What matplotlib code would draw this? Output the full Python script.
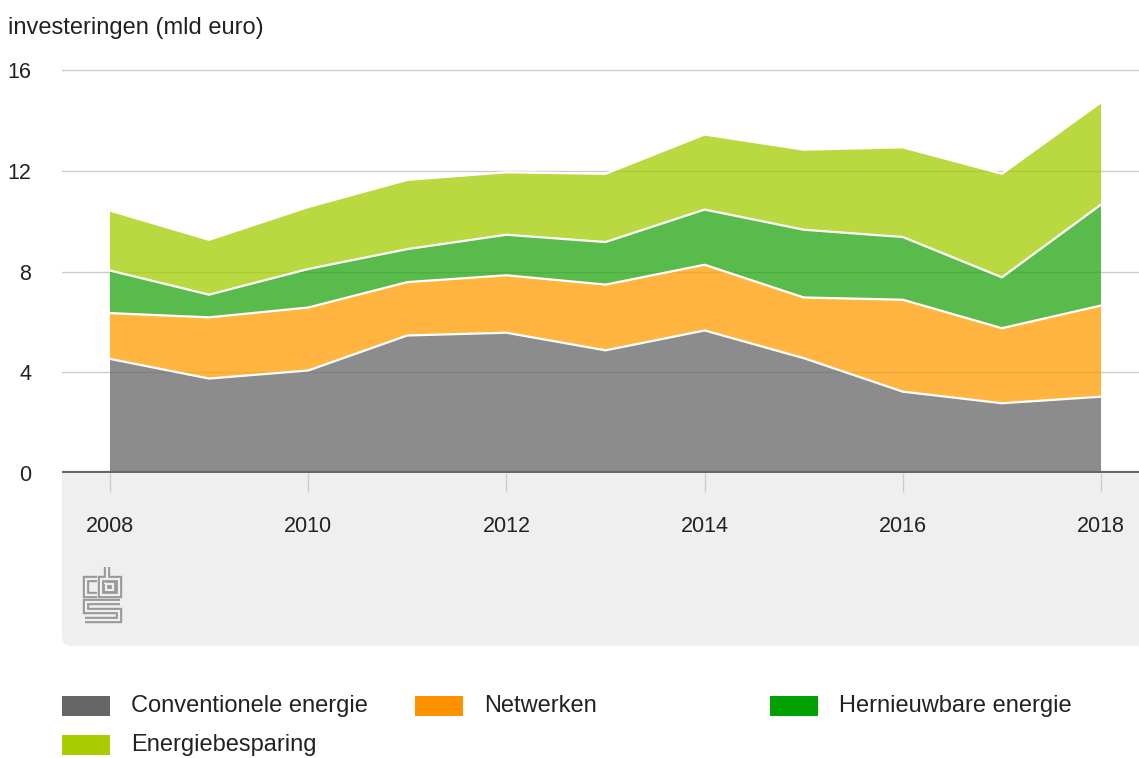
import matplotlib.pyplot as plt
from matplotlib.patches import FancyBboxPatch, Rectangle
from matplotlib.lines import Line2D
import numpy as np

plt.rcParams['font.family'] = ['Liberation Sans', 'DejaVu Sans']

years = np.arange(2008, 2019)
conventioneel = [4.53, 3.75, 4.07, 5.46, 5.57, 4.87, 5.66, 4.56, 3.23, 2.77, 3.03]
netwerken = [1.82, 2.43, 2.50, 2.12, 2.28, 2.61, 2.61, 2.41, 3.65, 2.98, 3.62]
hernieuwbaar = [1.69, 0.90, 1.53, 1.31, 1.61, 1.69, 2.19, 2.69, 2.49, 2.02, 4.01]
besparing = [2.38, 2.18, 2.46, 2.75, 2.48, 2.71, 2.98, 3.18, 3.56, 4.11, 4.06]

labels = ["Conventionele energie", "Netwerken", "Hernieuwbare energie", "Energiebesparing"]
colors = ["#666666", "#ff9200", "#00a100", "#a8cc00"]
fill_colors = ["#666666", "#ff9c00", "#21a410", "#a3cc00"]
yticks = [0, 4, 8, 12, 16]
xticks = [2008, 2010, 2012, 2014, 2016, 2018]

fig = plt.figure(figsize=(11.39, 7.58), dpi=100)
inch = fig.dpi_scale_trans
H = 7.58

# grey panel under the x axis
panel = FancyBboxPatch((0.62, H - 6.46), 11.2, 1.86, boxstyle="round,pad=0,rounding_size=0.09",
                       transform=inch, facecolor="#efefef", edgecolor="none", zorder=-5)
fig.patches.append(panel)

ax = fig.add_axes([62 / 1139, 1 - 473 / 758, 1 - 62 / 1139, (473 - 65) / 758])
ax.set_facecolor("white")
ax.set_xlim(2007.516, 2018.383)
ax.set_ylim(0, 16.2)

series = [conventioneel, netwerken, hernieuwbaar, besparing]
ax.stackplot(years, *series, colors=fill_colors, alpha=0.75, linewidth=0, zorder=2)
cum = np.cumsum(np.array(series), axis=0)
for row in cum:
    ax.plot(years, row, color="white", lw=1.6, zorder=3)

for y in yticks[1:]:
    ax.axhline(y, color="#cccccc", lw=1, zorder=1)
ax.axhline(0, color="#666666", lw=3, zorder=4)

for s in ax.spines.values():
    s.set_visible(False)
ax.set_yticks(yticks)
ax.set_xticks(xticks)
ax.tick_params(axis="y", length=0, pad=22, labelsize=15.5, labelcolor="#222222")
ax.tick_params(axis="x", length=14, width=1, color="#cccccc", pad=17, labelsize=15.5,
               labelcolor="#222222")

fig.text(8 / 1139, 1 - 28 / 758, "investeringen (mld euro)", fontsize=17, color="#222222",
         va="center", ha="left")

# cbs logo
def logo_line(xs, ys):
    xs = [x / 100 for x in xs]
    ys = [H - y / 100 for y in ys]
    fig.lines.append(Line2D(xs, ys, transform=inch, color="#999999", lw=4.6,
                            solid_joinstyle="miter", solid_capstyle="butt", zorder=5))
    fig.lines.append(Line2D(xs, ys, transform=inch, color="#efefef", lw=1.6,
                            solid_joinstyle="miter", solid_capstyle="butt", zorder=6))

logo_line([97, 86, 86, 97], [579, 579, 595, 595])
logo_line([107, 107, 119, 119, 101, 101, 107], [567, 579, 579, 595, 595, 579, 579])
logo_line([106, 113, 113, 106, 106], [584, 584, 590, 590, 584])
logo_line([120, 86, 86, 119, 119, 85], [602, 602, 611, 611, 619.5, 619.5])

# legend
legend_pos = [(62, 706), (415, 706), (770, 706), (62, 745)]
for (px, py), lab, col in zip(legend_pos, labels, colors):
    fig.patches.append(Rectangle((px / 100, H - (py + 10) / 100), 0.48, 0.2,
                                 transform=inch, facecolor=col, edgecolor="none"))
    fig.text((px + 69) / 1139, 1 - py / 758, lab, fontsize=17, color="#222222",
             va="center", ha="left")

fig.savefig("out.png", dpi=100)
